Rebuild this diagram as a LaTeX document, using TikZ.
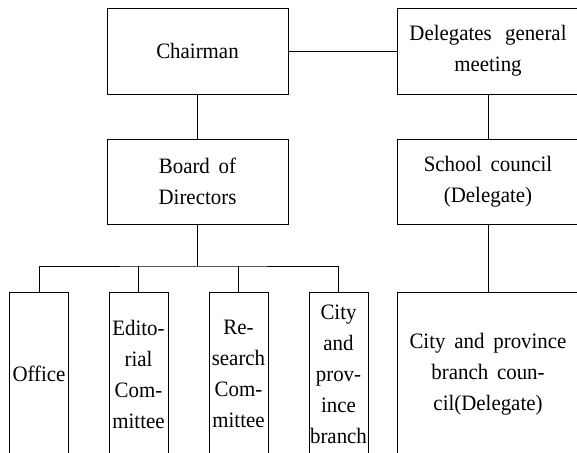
\documentclass[tikz,border=0pt]{standalone}
\usepackage{fontspec}
\setmainfont[FakeStretch=0.95]{Liberation Serif}
\begin{document}
\begin{tikzpicture}[x=1pt,y=-1pt,
  every node/.style={font=\fontsize{22}{31}\selectfont, align=center, inner sep=0pt},
  widebox/.style={draw, line width=0.9pt, minimum width=181pt},
  tallbox/.style={draw, line width=0.9pt, minimum width=59pt, minimum height=164pt},
  link/.style={line width=0.9pt}]
\useasboundingbox (0,0) rectangle (577,452);
\clip (0,0) rectangle (577,452);
% management side
\node[widebox, minimum height=86pt] (chair) at (197.5,51) {Chairman};
\node[widebox, minimum height=85pt] (board) at (197.5,181.5) {Board\hspace{0.4em}of\\Directors};
% delegate side
\node[widebox, minimum height=86pt, minimum width=182pt] (deleg) at (488,51) {Delegates\hspace{0.6em}general\\meeting};
\node[widebox, minimum height=85pt, minimum width=182pt] (school) at (488,181.5) {School\hspace{0.4em}council\\(Delegate)};
\node[draw, line width=0.9pt, minimum width=182pt, minimum height=164pt] (council) at (488,374) {City\hspace{0.4em}and\hspace{0.4em}province\\branch\hspace{0.4em}coun-\\cil(Delegate)};
% departments under the board
\node[tallbox] (office) at (39,374) {Office};
\node[tallbox] (edit) at (138.5,374) {Edito-\\rial\\Com-\\mittee};
\node[tallbox] (research) at (238.5,374) {Re-\\search\\Com-\\mittee};
\node[tallbox] (branch) at (338.5,374) {City\\and\\prov-\\ince\\branch};
% connectors
\coordinate (bus) at (197.5,266);
\draw[link] (chair) -- (deleg);
\draw[link] (chair) -- (board);
\draw[link] (deleg) -- (school);
\draw[link] (school) -- (council);
\draw[link] (board.south) -- (bus);
\draw[link] (office.north) |- (bus) -| (branch.north);
\draw[link] (edit.north) -- (edit.north |- bus);
\draw[link] (research.north) -- (research.north |- bus);
\end{tikzpicture}
\end{document}
